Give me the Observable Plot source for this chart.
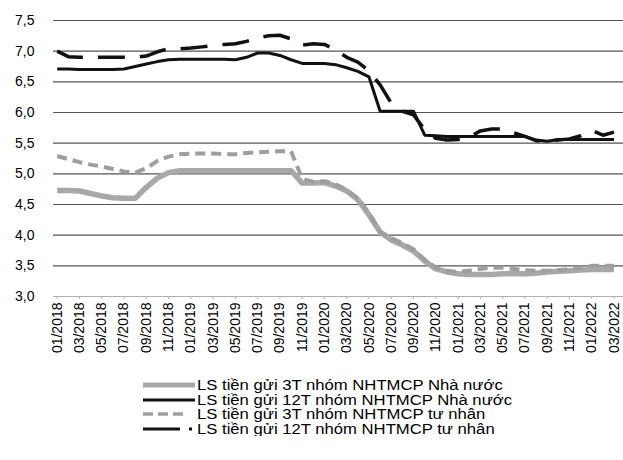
<!DOCTYPE html>
<html><head><meta charset="utf-8">
<script src="https://cdn.jsdelivr.net/npm/d3@7"></script>
<script src="https://cdn.jsdelivr.net/npm/@observablehq/plot@0.6"></script>
<style>
body{margin:0;background:#fff;font-family:"Liberation Sans",Arial,sans-serif;}
#legend{margin-left:143px;margin-top:6px;}
.row{display:flex;align-items:center;height:14.5px;font-size:14px;color:#000;white-space:nowrap;}
.row svg{flex:none;margin-right:0;}
.row span{display:inline-block;transform:scaleX(1.19);transform-origin:left center;}
</style></head><body>
<div id="chart"></div>
<div id="legend"></div>
<script>
const months = ["01/2018","02/2018","03/2018","04/2018","05/2018","06/2018","07/2018","08/2018","09/2018","10/2018","11/2018","12/2018",
"01/2019","02/2019","03/2019","04/2019","05/2019","06/2019","07/2019","08/2019","09/2019","10/2019","11/2019","12/2019",
"01/2020","02/2020","03/2020","04/2020","05/2020","06/2020","07/2020","08/2020","09/2020","10/2020","11/2020","12/2020",
"01/2021","02/2021","03/2021","04/2021","05/2021","06/2021","07/2021","08/2021","09/2021","10/2021","11/2021","12/2021",
"01/2022","02/2022","03/2022"];
const tickLabels = ["01/2018","03/2018","05/2018","07/2018","09/2018","11/2018","01/2019","03/2019","05/2019","07/2019","09/2019","11/2019","01/2020","03/2020","05/2020","07/2020","09/2020","11/2020","01/2021","03/2021","05/2021","07/2021","09/2021","11/2021","01/2022","03/2022"];
const yTicks = [3.0,3.5,4.0,4.5,5.0,5.5,6.0,6.5,7.0,7.5];
const seriesNames = ["LS tiền gửi 3T nhóm NHTMCP Nhà nước","LS tiền gửi 12T nhóm NHTMCP Nhà nước","LS tiền gửi 3T nhóm NHTMCP tư nhân","LS tiền gửi 12T nhóm NHTMCP tư nhân"];
const ls3tNN = [4.73,4.73,4.72,4.68,4.64,4.61,4.60,4.60,4.78,4.93,5.02,
5.05,5.05,5.05,5.05,5.05,5.05,5.05,5.05,5.05,5.05,5.05,
4.85,4.85,4.86,4.80,4.72,4.58,4.33,4.05,3.92,3.84,3.74,3.58,3.45,3.40,3.37,3.36,3.36,3.36,3.37,3.37,3.37,3.38,3.40,3.41,3.42,3.43,3.44,3.44,3.44];
const ls12tNN = [6.71,6.71,6.70,6.70,6.70,6.70,6.71,6.75,6.79,6.83,6.86,
6.87,6.87,6.87,6.87,6.87,6.86,6.90,6.97,6.97,6.93,6.86,
6.80,6.80,6.80,6.78,6.73,6.67,6.58,6.02,6.02,6.02,6.02,
5.63,5.62,5.61,5.61,5.61,5.61,5.61,5.61,5.61,5.61,
5.55,5.53,5.56,5.56,5.56,5.56,5.56,5.56];
const ls3tTN = [5.29,5.24,5.19,5.15,5.12,5.08,5.04,5.02,5.09,5.21,5.28,
5.32,5.33,5.33,5.33,5.32,5.32,5.34,5.35,5.36,5.37,5.37,
4.92,4.87,4.88,4.83,4.74,4.60,4.36,4.05,3.95,3.87,3.77,3.60,3.47,3.42,3.40,3.42,3.45,3.47,3.47,3.45,3.43,3.42,3.42,3.43,3.45,3.47,3.50,3.50,3.50];
const ls12tTN = [7.00,6.91,6.90,6.90,6.90,6.90,6.90,6.90,6.92,6.99,7.04,
7.04,7.05,7.07,7.09,7.11,7.12,7.16,7.22,7.25,7.26,7.20,
7.10,7.12,7.11,7.02,6.90,6.82,6.68,6.45,6.15,6.02,5.96,5.72,5.58,5.55,5.56,5.60,5.70,5.73,5.73,5.67,5.61,5.54,5.54,5.55,5.57,5.62,5.71,5.63,5.68];

const styles = [
  {stroke:"#a8a8a8", strokeWidth:5.5, dash:null},
  {stroke:"#111", strokeWidth:3, dash:null},
  {stroke:"#9e9e9e", strokeWidth:4, dash:"10,6"},
  {stroke:"#111", strokeWidth:3.5, dash:"27,15"}
];
const allSeries = [ls3tNN, ls12tNN, ls3tTN, ls12tTN];
const tickIdx = tickLabels.map(t => months.indexOf(t));
const drawOrder = [0,2,1,3];

const lineMarks = drawOrder.map(k => Plot.lineY(allSeries[k].map((v,i)=>({i, v})), {
  x: "i", y: "v", stroke: styles[k].stroke, strokeWidth: styles[k].strokeWidth,
  strokeDasharray: styles[k].dash, strokeLinejoin:"round", strokeLinecap:"butt"
}));

const chart = Plot.plot({
  width: 623, height: 372,
  marginTop: 20, marginBottom: 76, marginLeft: 53, marginRight: 0,
  style: {fontFamily: "'Liberation Sans', Arial, sans-serif", fontSize: "14px", color: "#000", background: "transparent"},
  x: {type: "linear", domain: [-0.33, 50.85], axis: null},
  y: {domain: [3, 7.5], axis: null},
  marks: [
    Plot.ruleY(yTicks.filter(v => v > 3), {stroke: "#555", strokeWidth: 1.2, strokeOpacity: 1}),
    Plot.ruleY([3], {stroke: "#b0b0b0", strokeWidth: 1}),
    Plot.axisY(yTicks, {label: null, tickSize: 0, tickPadding: 19, fontSize: 14, tickFormat: d => d.toFixed(1).replace(".", ",")}),
    Plot.axisX(tickIdx, {label: null, tickSize: 3, tickPadding: 3, stroke: "#b0b0b0", tickRotate: -90, fontSize: 14, tickFormat: i => months[i]}),
    ...lineMarks
  ]
});
document.getElementById("chart").appendChild(chart);

const legend = document.getElementById("legend");
const swatches = [
  '<svg width="54" height="10"><line x1="0" x2="52" y1="5" y2="5" stroke="#a8a8a8" stroke-width="5"/></svg>',
  '<svg width="54" height="10"><line x1="0" x2="52" y1="5" y2="5" stroke="#111" stroke-width="3"/></svg>',
  '<svg width="54" height="10"><line x1="0" x2="40" y1="5" y2="5" stroke="#9e9e9e" stroke-width="3.5" stroke-dasharray="10,5"/></svg>',
  '<svg width="54" height="10"><line x1="0" x2="49" y1="5" y2="5" stroke="#111" stroke-width="3" stroke-dasharray="37,9"/></svg>'
];
seriesNames.forEach((name, k) => {
  const row = document.createElement("div");
  row.className = "row";
  row.innerHTML = swatches[k] + '<span>' + name + '</span>';
  legend.appendChild(row);
});
</script>
</body></html>
